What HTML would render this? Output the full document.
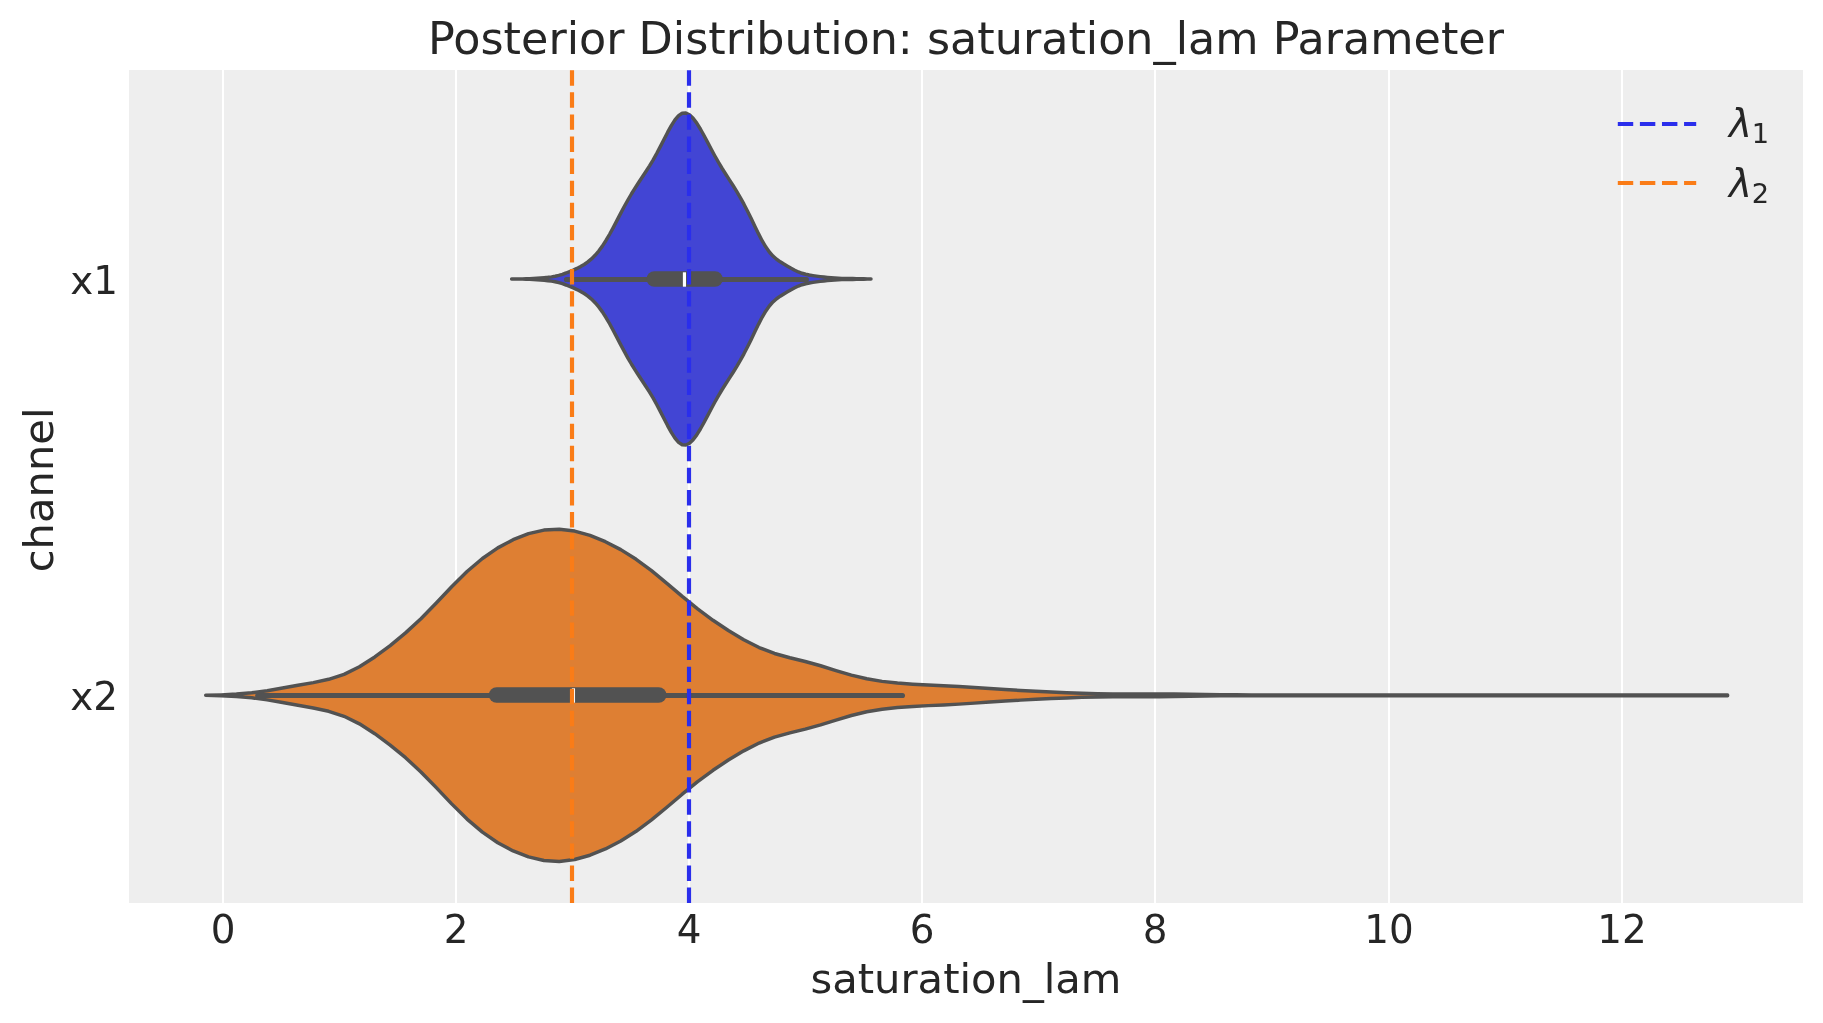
<!DOCTYPE html>
<html><head><meta charset="utf-8"><title>Posterior Distribution: saturation_lam Parameter</title>
<style>html,body{margin:0;padding:0;background:#fff;overflow:hidden}svg{display:block;will-change:transform}</style>
</head><body>
<svg xmlns="http://www.w3.org/2000/svg" width="1823" height="1023" viewBox="0 0 1823 1023">
<rect x="0" y="0" width="1823" height="1023" fill="#ffffff"/>
<rect x="129" y="70" width="1674" height="833" fill="#eeeeee"/>
<rect x="221.95" y="70" width="2.1" height="833" fill="#ffffff"/>
<rect x="454.95" y="70" width="2.1" height="833" fill="#ffffff"/>
<rect x="687.95" y="70" width="2.1" height="833" fill="#ffffff"/>
<rect x="920.95" y="70" width="2.1" height="833" fill="#ffffff"/>
<rect x="1153.95" y="70" width="2.1" height="833" fill="#ffffff"/>
<rect x="1387.95" y="70" width="2.1" height="833" fill="#ffffff"/>
<rect x="1620.95" y="70" width="2.1" height="833" fill="#ffffff"/>
<path d="M511.60,279.00 L515.23,279.00 L518.86,279.00 L522.49,278.95 L526.12,278.81 L529.75,278.62 L533.38,278.39 L537.01,278.14 L540.64,277.89 L544.27,277.63 L547.90,277.31 L551.53,276.87 L555.16,276.24 L558.79,275.39 L562.42,274.29 L566.05,273.00 L569.68,271.57 L573.32,270.06 L576.95,268.45 L580.58,266.62 L584.21,264.49 L587.84,261.95 L591.47,258.92 L595.10,255.32 L598.73,251.06 L602.36,246.11 L605.99,240.48 L609.62,234.25 L613.25,227.57 L616.88,220.63 L620.51,213.64 L624.14,206.80 L627.77,200.24 L631.40,194.00 L635.03,188.10 L638.66,182.48 L642.29,177.01 L645.92,171.54 L649.55,165.86 L653.18,159.79 L656.81,153.27 L660.44,146.35 L664.07,139.22 L667.70,132.18 L671.33,125.60 L674.96,119.93 L678.59,115.67 L682.22,113.25 L685.85,112.94 L689.48,114.69 L693.12,118.22 L696.75,123.12 L700.38,129.00 L704.01,135.52 L707.64,142.36 L711.27,149.26 L714.90,156.01 L718.53,162.44 L722.16,168.51 L725.79,174.26 L729.42,179.87 L733.05,185.52 L736.68,191.39 L740.31,197.60 L743.94,204.21 L747.57,211.22 L751.20,218.60 L754.83,226.18 L758.46,233.67 L762.09,240.69 L765.72,246.86 L769.35,251.98 L772.98,256.04 L776.61,259.22 L780.24,261.80 L783.87,264.08 L787.50,266.23 L791.13,268.31 L794.76,270.26 L798.39,271.96 L802.02,273.29 L805.65,274.29 L809.28,275.03 L812.92,275.63 L816.55,276.15 L820.18,276.64 L823.81,277.09 L827.44,277.49 L831.07,277.82 L834.70,278.07 L838.33,278.25 L841.96,278.37 L845.59,278.46 L849.22,278.54 L852.85,278.60 L856.48,278.67 L860.11,278.74 L863.74,278.82 L867.37,278.91 L871.00,279.00 L867.37,279.09 L863.74,279.18 L860.11,279.26 L856.48,279.33 L852.85,279.40 L849.22,279.46 L845.59,279.54 L841.96,279.63 L838.33,279.75 L834.70,279.93 L831.07,280.18 L827.44,280.51 L823.81,280.91 L820.18,281.36 L816.55,281.85 L812.92,282.37 L809.28,282.97 L805.65,283.71 L802.02,284.71 L798.39,286.04 L794.76,287.74 L791.13,289.69 L787.50,291.77 L783.87,293.92 L780.24,296.20 L776.61,298.78 L772.98,301.96 L769.35,306.02 L765.72,311.14 L762.09,317.31 L758.46,324.33 L754.83,331.82 L751.20,339.40 L747.57,346.78 L743.94,353.79 L740.31,360.40 L736.68,366.61 L733.05,372.48 L729.42,378.13 L725.79,383.74 L722.16,389.49 L718.53,395.56 L714.90,401.99 L711.27,408.74 L707.64,415.64 L704.01,422.48 L700.38,429.00 L696.75,434.88 L693.12,439.78 L689.48,443.31 L685.85,445.06 L682.22,444.75 L678.59,442.33 L674.96,438.07 L671.33,432.40 L667.70,425.82 L664.07,418.78 L660.44,411.65 L656.81,404.73 L653.18,398.21 L649.55,392.14 L645.92,386.46 L642.29,380.99 L638.66,375.52 L635.03,369.90 L631.40,364.00 L627.77,357.76 L624.14,351.20 L620.51,344.36 L616.88,337.37 L613.25,330.43 L609.62,323.75 L605.99,317.52 L602.36,311.89 L598.73,306.94 L595.10,302.68 L591.47,299.08 L587.84,296.05 L584.21,293.51 L580.58,291.38 L576.95,289.55 L573.32,287.94 L569.68,286.43 L566.05,285.00 L562.42,283.71 L558.79,282.61 L555.16,281.76 L551.53,281.13 L547.90,280.69 L544.27,280.37 L540.64,280.11 L537.01,279.86 L533.38,279.61 L529.75,279.38 L526.12,279.19 L522.49,279.05 L518.86,279.00 L515.23,279.00 Z" fill="#4245d4" stroke="#525252" stroke-width="3.47" stroke-linejoin="round"/>
<path d="M205.70,695.30 L221.07,694.87 L236.45,694.10 L251.82,692.78 L267.19,690.71 L282.56,688.07 L297.94,685.31 L313.31,682.59 L328.68,679.32 L344.05,674.32 L359.43,666.78 L374.80,656.92 L390.17,645.54 L405.55,632.89 L420.92,618.68 L436.29,602.96 L451.66,586.73 L467.04,571.52 L482.41,558.45 L497.78,547.90 L513.15,539.68 L528.53,533.68 L543.90,530.07 L559.27,529.17 L574.65,531.07 L590.02,535.39 L605.39,541.67 L620.76,549.65 L636.14,559.32 L651.51,570.66 L666.88,583.31 L682.25,596.40 L697.63,608.92 L713.00,620.29 L728.37,630.54 L743.75,639.74 L759.12,647.55 L774.49,653.48 L789.86,657.73 L805.24,661.47 L820.61,665.75 L835.98,670.56 L851.35,675.13 L866.73,678.79 L882.10,681.35 L897.47,683.04 L912.85,684.16 L928.22,684.97 L943.59,685.69 L958.96,686.49 L974.34,687.46 L989.71,688.51 L1005.08,689.53 L1020.45,690.46 L1035.83,691.29 L1051.20,692.03 L1066.57,692.69 L1081.95,693.26 L1097.32,693.66 L1112.69,693.88 L1128.06,693.92 L1143.44,693.90 L1158.81,693.94 L1174.18,694.10 L1189.55,694.33 L1204.93,694.56 L1220.30,694.73 L1235.67,694.84 L1251.05,694.88 L1266.42,694.88 L1281.79,694.88 L1297.16,694.88 L1312.54,694.88 L1327.91,694.88 L1343.28,694.88 L1358.65,694.88 L1374.03,694.88 L1389.40,694.88 L1404.77,694.88 L1420.15,694.88 L1435.52,694.88 L1450.89,694.88 L1466.26,694.88 L1481.64,694.88 L1497.01,694.88 L1512.38,694.88 L1527.75,694.88 L1543.13,694.88 L1558.50,694.88 L1573.87,694.88 L1589.25,694.88 L1604.62,694.88 L1619.99,694.88 L1635.36,694.88 L1650.74,694.88 L1666.11,694.88 L1681.48,694.88 L1696.85,694.88 L1712.23,694.88 L1727.60,694.88 L1727.60,695.72 L1712.23,695.72 L1696.85,695.72 L1681.48,695.72 L1666.11,695.72 L1650.74,695.72 L1635.36,695.72 L1619.99,695.72 L1604.62,695.72 L1589.25,695.72 L1573.87,695.72 L1558.50,695.72 L1543.13,695.72 L1527.75,695.72 L1512.38,695.72 L1497.01,695.72 L1481.64,695.72 L1466.26,695.72 L1450.89,695.72 L1435.52,695.72 L1420.15,695.72 L1404.77,695.72 L1389.40,695.72 L1374.03,695.72 L1358.65,695.72 L1343.28,695.72 L1327.91,695.72 L1312.54,695.72 L1297.16,695.72 L1281.79,695.72 L1266.42,695.72 L1251.05,695.72 L1235.67,695.76 L1220.30,695.87 L1204.93,696.04 L1189.55,696.27 L1174.18,696.50 L1158.81,696.66 L1143.44,696.70 L1128.06,696.68 L1112.69,696.72 L1097.32,696.94 L1081.95,697.34 L1066.57,697.91 L1051.20,698.57 L1035.83,699.31 L1020.45,700.14 L1005.08,701.07 L989.71,702.09 L974.34,703.14 L958.96,704.11 L943.59,704.91 L928.22,705.63 L912.85,706.44 L897.47,707.56 L882.10,709.25 L866.73,711.81 L851.35,715.47 L835.98,720.04 L820.61,724.85 L805.24,729.13 L789.86,732.87 L774.49,737.12 L759.12,743.05 L743.75,750.86 L728.37,760.06 L713.00,770.31 L697.63,781.68 L682.25,794.20 L666.88,807.29 L651.51,819.94 L636.14,831.28 L620.76,840.95 L605.39,848.93 L590.02,855.21 L574.65,859.53 L559.27,861.43 L543.90,860.53 L528.53,856.92 L513.15,850.92 L497.78,842.70 L482.41,832.15 L467.04,819.08 L451.66,803.87 L436.29,787.64 L420.92,771.92 L405.55,757.71 L390.17,745.06 L374.80,733.68 L359.43,723.82 L344.05,716.28 L328.68,711.28 L313.31,708.01 L297.94,705.29 L282.56,702.53 L267.19,699.89 L251.82,697.82 L236.45,696.50 L221.07,695.73 Z" fill="#de7f33" stroke="#525252" stroke-width="3.47" stroke-linejoin="round"/>
<line x1="566.50" y1="279.50" x2="806.30" y2="279.50" stroke="#525252" stroke-width="5.21" stroke-linecap="round"/>
<line x1="654.30" y1="279.00" x2="715.00" y2="279.00" stroke="#525252" stroke-width="15.62" stroke-linecap="round"/>
<rect x="682.88" y="272.30" width="3.15" height="14.4" fill="#ffffff"/>
<line x1="257.80" y1="695.50" x2="902.40" y2="695.50" stroke="#525252" stroke-width="5.21" stroke-linecap="round"/>
<line x1="496.60" y1="695.00" x2="658.70" y2="695.00" stroke="#525252" stroke-width="15.62" stroke-linecap="round"/>
<rect x="571.88" y="688.30" width="3.15" height="14.4" fill="#ffffff"/>
<line x1="572.00" y1="903" x2="572.00" y2="70" stroke="#fa7c17" stroke-width="4.17" stroke-dasharray="15.42 6.67"/>
<line x1="689.00" y1="903" x2="689.00" y2="70" stroke="#2a2eec" stroke-width="4.17" stroke-dasharray="15.42 6.67"/>
<line x1="1617.8" y1="124.0" x2="1696.2" y2="124.0" stroke="#2a2eec" stroke-width="4.17" stroke-dasharray="15.42 6.67"/>
<line x1="1617.8" y1="183.0" x2="1696.2" y2="183.0" stroke="#fa7c17" stroke-width="4.17" stroke-dasharray="15.42 6.67"/>
<text x="1729.0" y="136.6" style="font-family:'DejaVu Sans','Liberation Sans',sans-serif;font-size:38.89px;font-style:italic" fill="#262626">λ</text>
<text x="1751.8" y="143.1" style="font-family:'DejaVu Sans','Liberation Sans',sans-serif;font-size:27.22px" fill="#262626">1</text>
<text x="1729.0" y="196.8" style="font-family:'DejaVu Sans','Liberation Sans',sans-serif;font-size:38.89px;font-style:italic" fill="#262626">λ</text>
<text x="1751.8" y="202.9" style="font-family:'DejaVu Sans','Liberation Sans',sans-serif;font-size:27.22px" fill="#262626">2</text>
<text x="966.00" y="54.10" style="font-family:'DejaVu Sans','Liberation Sans',sans-serif;font-size:44.44px" fill="#262626" text-anchor="middle" >Posterior Distribution: saturation_lam Parameter</text>
<text x="223.00" y="942.80" style="font-family:'DejaVu Sans','Liberation Sans',sans-serif;font-size:38.89px" fill="#262626" text-anchor="middle" >0</text>
<text x="456.00" y="942.80" style="font-family:'DejaVu Sans','Liberation Sans',sans-serif;font-size:38.89px" fill="#262626" text-anchor="middle" >2</text>
<text x="689.00" y="942.80" style="font-family:'DejaVu Sans','Liberation Sans',sans-serif;font-size:38.89px" fill="#262626" text-anchor="middle" >4</text>
<text x="922.00" y="942.80" style="font-family:'DejaVu Sans','Liberation Sans',sans-serif;font-size:38.89px" fill="#262626" text-anchor="middle" >6</text>
<text x="1155.00" y="942.80" style="font-family:'DejaVu Sans','Liberation Sans',sans-serif;font-size:38.89px" fill="#262626" text-anchor="middle" >8</text>
<text x="1389.00" y="942.80" style="font-family:'DejaVu Sans','Liberation Sans',sans-serif;font-size:38.89px" fill="#262626" text-anchor="middle" >10</text>
<text x="1622.00" y="942.80" style="font-family:'DejaVu Sans','Liberation Sans',sans-serif;font-size:38.89px" fill="#262626" text-anchor="middle" >12</text>
<text x="118.00" y="294.00" style="font-family:'DejaVu Sans','Liberation Sans',sans-serif;font-size:38.89px" fill="#262626" text-anchor="end" >x1</text>
<text x="118.00" y="710.30" style="font-family:'DejaVu Sans','Liberation Sans',sans-serif;font-size:38.89px" fill="#262626" text-anchor="end" >x2</text>
<text x="966.00" y="993.40" style="font-family:'DejaVu Sans','Liberation Sans',sans-serif;font-size:41.67px" fill="#262626" text-anchor="middle" >saturation_lam</text>
<text transform="translate(53.4,489.9) rotate(-90)" x="0" y="0" style="font-family:'DejaVu Sans','Liberation Sans',sans-serif;font-size:41.67px" fill="#262626" text-anchor="middle">channel</text>
</svg>
</body></html>
